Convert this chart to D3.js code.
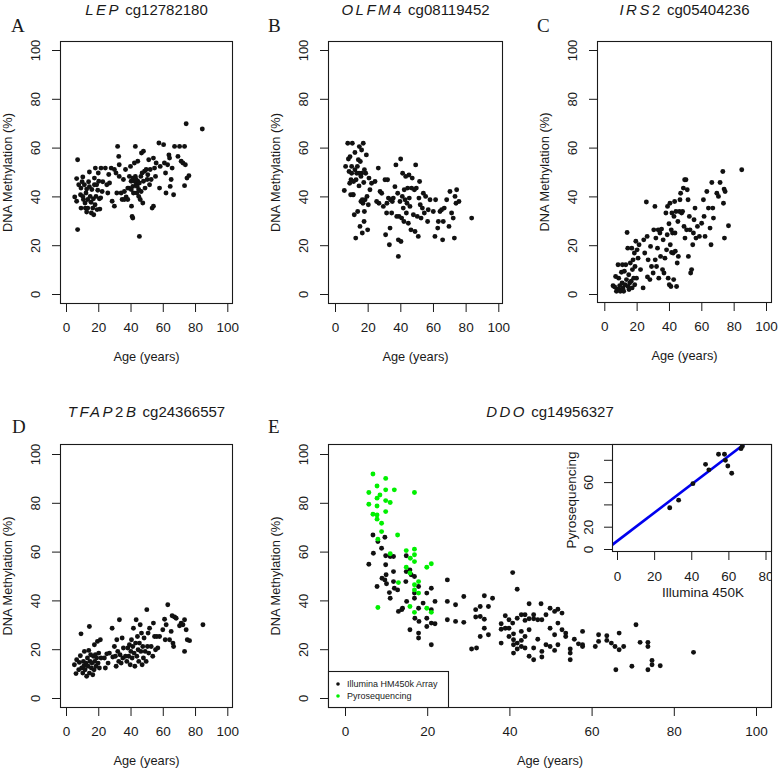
<!DOCTYPE html>
<html><head><meta charset="utf-8">
<script src="https://cdn.jsdelivr.net/npm/d3@7"></script>
<style>body{margin:0;background:#fff} svg{display:block}</style>
</head><body>
<svg id="c" width="778" height="770"></svg>
<script>
// ---------------- DATA ----------------
const tickValues = [0, 20, 40, 60, 80, 100];
const insetTickValues = [0, 20, 40, 60, 80];
const insetYLabelValues = [0, 20, 60];
const panelLetters = ["A", "B", "C", "D", "E"];
const titleGenes = [
  [["LEP", true]],
  [["OLFM", true], ["4", false]],
  [["IRS", true], ["2", false]],
  [["TFAP", true], ["2", false], ["B", true]],
  [["DDO", true]]
];
const titleProbes = ["cg12782180", "cg08119452", "cg05404236", "cg24366557", "cg14956327"];
const yAxisTitle = "DNA Methylation (%)";
const xAxisTitle = "Age (years)";
const legendLabels = ["Illumina HM450k Array", "Pyrosequencing"];
const insetXTitle = "Illumina 450K";
const insetYTitle = "Pyrosequencing";
const fitIntercept = 7.0;
const fitSlope = 1.27;

// [age, methylation %]
const lepPoints = [[7.2,55],[7.2,26.4],[5.4,39.8],[6.6,38],[6.6,47.3],[9.3,43.4],[9.3,35.2],[9,40.7],[10,46],[10.4,48],[11.4,44.8],[10.8,38.7],[12,35.2],[12.8,33.6],[12.4,41.4],[13.5,38.7],[12.8,43],[14,46],[14.5,50],[15,40],[15.5,37.6],[16,42.8],[16.6,35.2],[17.2,32.5],[17.6,44.8],[17.6,47.5],[18.2,51.6],[18.6,40],[19.3,34.6],[19.7,42.5],[20.3,46.2],[20.7,39],[21,34.8],[21.7,51.6],[22.4,42],[22.8,46],[24.4,51.6],[25.3,44.8],[25.9,41.4],[26.5,49],[27,45.5],[28,51.6],[28.6,38],[30,36],[30,51],[31,49.6],[31.5,41.4],[32,60.5],[32.7,56.4],[33,53],[33,48.2],[34.2,41.4],[34.8,38.7],[35.6,46.9],[36.2,42],[36.9,51],[37.3,39.8],[38.3,38.7],[39,43.4],[39.3,48.2],[40,52.3],[40.4,46.2],[40.6,36],[41,31.8],[41.4,31.1],[41.4,44.1],[41.8,41.4],[42.4,53.7],[43,60.5],[43,48.2],[43.5,44.8],[43.9,41.4],[44.5,54.4],[44.5,46.2],[45.1,42.8],[45.5,23.6],[46,38.7],[46.4,48.2],[46.8,57.8],[47.2,49.6],[47.6,37.3],[48,58.5],[48,46.2],[48.7,50.3],[49,43.4],[49.7,51],[50.3,46.9],[50.7,48.9],[51.3,55],[51.8,44.8],[52.2,51],[52.8,46.9],[53.4,35.2],[54.2,36],[54.2,55.7],[54.9,51.6],[55.5,48.2],[55.9,53.7],[57.6,61.9],[58,43.4],[58.4,52.3],[60.5,61.2],[61,53.7],[61.7,49.6],[62,41.4],[63,53],[63.8,57],[64.2,55.7],[64.6,44.1],[65.2,46.9],[65.8,51.6],[66.7,40.7],[67.3,60.5],[69.4,56.4],[70.4,60.5],[71.4,54.4],[72.5,53.7],[73.5,60.5],[73.5,44.4],[74,53],[74.5,69.8],[75,47.5],[76.2,48.5],[84.5,67.6],[7.9,44.8],[10.4,40],[11.8,37.3],[13.5,35.2],[14.5,44],[15.7,33.2],[17,39],[18,36.6],[19,44.8],[20,49.6],[21.5,39.4],[40.4,42.8],[41.4,47.5],[42.4,46.2],[43.5,46.9],[44.1,44.1],[45.1,40],[45.5,45.5],[46.6,42],[38.3,43.4],[36.2,38.7]];

const olfm4Points = [[5.7,42.4],[6.5,52.3],[7.8,61.8],[8.2,55.3],[8.6,50.2],[9.2,56.3],[9.6,40.7],[9.8,46.8],[10.2,49.5],[10.6,61.8],[11,40.7],[11.4,46.1],[11.8,32.5],[12.2,58],[12.2,50.9],[12.7,22.9],[13.3,49.5],[13.7,52.3],[13.9,33.8],[14.3,55],[14.7,44.3],[14.9,60.4],[15.3,27.7],[15.5,54.3],[15.9,37.9],[16.3,59],[16.3,49.5],[16.7,25],[17.1,37.2],[17.3,61.8],[17.6,45.7],[17.8,29.7],[18,33.8],[18.4,38.6],[18.8,49.5],[19.2,57],[19.6,40],[20,26.3],[20.4,36.6],[20.8,47.5],[21.4,42.7],[22.4,45.4],[24.5,46.1],[25.5,37.9],[26.5,51.6],[26.9,37.2],[27.6,42],[28.6,41.3],[29.6,35.9],[30.6,46.8],[31,24.3],[31.6,33.2],[31.8,37.2],[32.2,46.8],[32.7,39.3],[33.3,20.2],[33.7,27],[34,38.6],[34.7,33.2],[35.1,37.9],[35.7,39.3],[36.7,44],[37.3,52.9],[37.8,31.8],[38.4,41.3],[38.8,15.4],[38.8,22.2],[39.2,31.8],[39.8,37.9],[40.2,55.3],[40.4,21.5],[40.8,31.1],[41.2,40],[41.4,49.5],[41.8,35.2],[42.2,29.7],[42.4,42.7],[42.9,38.6],[43.3,48.2],[43.7,33.2],[44.1,37.2],[44.5,43.4],[44.9,29],[45.3,48.8],[45.5,39.3],[45.9,35.9],[46.5,26.3],[46.9,43.4],[47.3,47.5],[48,32.5],[48.6,42.7],[49,25.6],[49.4,52.9],[49.8,43.4],[50.4,31.8],[51,23.6],[51.4,39.3],[51.8,46.1],[52.2,36.6],[52.7,31.1],[53.5,35.2],[54.1,41.3],[54.7,33.2],[55.5,40],[56.7,29.7],[57.1,34.5],[58.2,38.6],[60.2,33.8],[61.2,23.6],[61.6,38.6],[62.9,27],[63.3,29.7],[64.3,33.8],[65.3,34.5],[65.9,22.2],[66.3,29.7],[66.9,35.2],[68.4,38.6],[69.8,27.7],[70.4,42],[71.4,33.2],[72.4,31.1],[73.5,40],[73.1,22.9],[74.1,37.2],[74.5,42.7],[75.9,37.9],[83.7,31.1],[9,45.4],[10.2,52.3],[11.2,40.7],[12.9,46.8],[14.7,49.5],[15.9,48.2],[16.7,38.6],[18,50.9]];

const irs2Points = [[5.4,3.4],[6.4,2.9],[7,7.2],[7.5,1.1],[7.9,2],[8.5,12],[8.9,6.5],[9.1,1.8],[9.5,3.4],[9.9,1.1],[10.6,8.9],[11,4.5],[11.2,12],[11.6,2.5],[12,1.1],[12.4,9.3],[12.8,3.8],[13.3,12],[13.7,5.9],[14.1,25.2],[14.5,18.8],[14.7,3.1],[15.1,7.9],[15.3,1.8],[15.7,4.5],[16.1,12.7],[16.6,5.2],[17,18.8],[17.2,2.5],[17.4,10],[17.8,14],[18.2,6.5],[18.6,16.8],[18.8,3.8],[19,11.3],[19.5,21.6],[19.9,6.5],[20.3,18.1],[20.9,14.7],[21.5,20.2],[22.4,10],[24,2.5],[24.4,22.2],[25,16.8],[26,37.7],[26.5,23.6],[26.7,7],[27.1,14],[28.2,5.9],[28.6,19.5],[29.2,11.3],[30.2,8.6],[30.6,26.3],[31.3,35.9],[31.5,14],[31.9,22.9],[32.3,11.3],[32.9,18.8],[33.3,26.3],[33.7,6.5],[34.4,25],[34.8,15.4],[35.4,26.6],[36,10],[36.4,22.2],[36.9,8.6],[37.5,14.7],[38.1,33.2],[38.5,18.1],[38.9,24.3],[39.1,35.9],[39.5,6.5],[40,28.8],[40.2,3.8],[40.6,37.2],[40.8,20.2],[41.2,3.1],[41.4,26.3],[41.6,17],[41.8,33.2],[42.2,25],[42.6,16.8],[42.9,5.9],[43.1,31.8],[43.5,37.9],[43.7,25],[43.9,17.5],[44.3,33.8],[44.7,3.1],[45.1,12.7],[45.5,29.7],[45.8,15.4],[46.4,33.8],[46.8,38.6],[47.2,41.3],[47.8,33.2],[48.4,33.8],[48.9,43.4],[49.3,27.7],[49.7,46.8],[49.9,22.9],[50.5,46.8],[50.9,26.3],[51.3,42.7],[51.8,38.6],[52,15.4],[52.6,31.8],[53,26.3],[53.4,8.6],[54,10],[54.7,20.2],[55.1,25],[55.5,30.4],[56.1,35.2],[56.7,22.9],[57.6,27.7],[58.8,23.6],[60.2,29],[61.3,38.6],[61.7,31.8],[62.3,23.6],[63.4,42],[64.4,35.2],[65.4,27],[66,20.2],[66.5,45.7],[67.1,35.2],[67.5,31.1],[69.6,41.3],[70.6,40],[71.6,45.7],[73.3,50.2],[73.7,37.2],[74.1,43],[74.3,22.9],[74.7,42],[76.8,28],[85,50.9]];

const tfap2bPoints = [[5.2,13.6],[6.2,10],[6.6,15.7],[7.9,11.6],[8.3,14.6],[8.9,17.3],[9.3,26.3],[9.7,12.3],[10.4,10.2],[10.8,15],[11.2,13.2],[11.4,19.1],[11.8,11.6],[12.4,14.3],[12.8,8.9],[13.3,16.4],[13.7,13],[14.1,19.5],[14.5,29.3],[14.5,10.2],[14.9,15],[15.3,17.7],[15.7,12.3],[16.1,14.3],[16.6,9.5],[17,17.1],[17.4,11.6],[17.6,21.8],[17.8,15],[18.2,17.7],[18.6,13],[19,16.4],[19.5,23.2],[19.9,14.3],[20.3,18.4],[20.7,12.3],[21.3,23.9],[21.7,16.4],[23.8,16.4],[24.4,12.3],[25.3,18.1],[26.1,14.3],[26.9,18.4],[28.6,28.6],[29,16.8],[30,21.1],[30.6,17.1],[31.1,13],[31.5,23.9],[32.1,19.1],[32.7,15],[33.1,32.1],[33.5,17.7],[34.2,14.3],[34.8,24.6],[35.2,16.4],[35.6,20.5],[36.9,17.1],[37.7,15],[38.3,20.5],[38.9,17.1],[39.3,21.8],[39.8,13.6],[40.2,19.1],[40.6,23.9],[41,16.4],[41.4,21.1],[41.8,28.6],[42.2,18.4],[42.7,13],[43.1,22.5],[43.5,32.1],[43.9,17.1],[44.3,25.2],[44.7,19.8],[45.1,15],[45.5,22.5],[46,30],[46.4,19.1],[46.8,26.6],[47.2,13.6],[47.6,21.1],[48,16.4],[48.4,24.6],[49.1,19.1],[49.7,15],[50.1,36.2],[50.5,21.1],[50.9,26.6],[51.3,18.4],[51.8,28.6],[52.8,21.1],[53.8,17.1],[54.2,30.7],[54.9,25.2],[55.5,19.8],[56.3,25.2],[56.9,20.5],[58,25.2],[60,28],[61.1,32.3],[61.5,23.9],[62.1,30],[63.1,38.2],[64.2,23.9],[65.2,27.3],[65.8,33.7],[66.3,22.5],[66.7,21.1],[67.3,33.2],[68.3,32.7],[70.4,29.6],[71.4,30.7],[72.5,30],[73.5,32.1],[73.5,19.1],[74.5,28],[75.2,23.9],[76.6,23.5],[84.9,30]];

const ddoArrayPoints = [[5.8,54.8],[6.8,66.8],[6.9,59.3],[7.8,45.7],[8,64.1],[8.9,61.4],[9,49.1],[9.7,65.9],[9.7,48.4],[9.9,58.3],[9.9,54.6],[10,50.5],[10.1,46.8],[10.8,43.2],[11,40.9],[11,58],[11.8,58],[11.8,51.8],[11.8,47.7],[12,45],[12.8,44.3],[13,35.5],[13.8,36.2],[14,36.8],[14.8,47.7],[14.9,58.3],[14.9,51.8],[15,39.6],[15.8,28],[15.8,52.5],[16.1,50.5],[16.9,49.8],[16.9,43],[16.9,40.9],[17,32.7],[17.9,45.7],[17.9,36.8],[17.9,26.6],[17.9,24.6],[18,31.4],[19,38.9],[19.9,43],[19.9,32.7],[19.9,29.3],[21,45],[21,36.2],[21,30.7],[21,21.8],[21.9,39.6],[21.9,30.4],[24.9,48.4],[24.9,39.6],[24.9,32.1],[26.9,38.2],[26.9,31.4],[28.9,41.6],[28.9,31],[30.8,20.1],[31.8,36.2],[31.8,33.2],[32,20.5],[32.9,37.5],[32.9,33.4],[32.9,25.2],[33.9,41.9],[33.9,32.3],[33.9,28.6],[34.9,37.5],[34.9,25.9],[35.9,40.9],[38,30.4],[38,22.5],[38,28.2],[39,33.7],[39,28.6],[39.9,32.1],[39.9,28.6],[39.9,25.2],[40.8,51.4],[40.8,30.7],[41,26.3],[41,23.9],[41,21.8],[41,18.4],[41.9,44.6],[41.9,32.7],[41.9,22.5],[41.9,20.1],[42.9,34.1],[42.9,27.3],[42.9,23.6],[42.9,21.1],[43.8,34.1],[43.8,31.8],[43.8,25.2],[43.8,20.5],[44.8,38.6],[44.8,32.5],[44.8,28],[44.8,17.1],[45.9,34.1],[45.9,32.5],[45.9,20.5],[45.9,15.7],[46.9,32.1],[46.9,24.1],[47.7,38.6],[47.9,32.1],[47.9,19.1],[47.9,16.8],[48.9,34.1],[48.9,21.8],[49.9,36.8],[49.9,28.6],[49.9,21.1],[51,35.5],[51,25.9],[51,19.5],[51.8,36.4],[51.8,30.7],[51.8,21.8],[52.8,34.8],[52.8,28],[53.7,26.6],[53.7,25.2],[54.8,20.1],[54.8,18.4],[54.8,15.7],[55.8,24.1],[56.8,22.2],[57.8,27.3],[57.8,21.8],[57.8,21.1],[60.9,21.1],[61.7,25.9],[61.7,23.2],[63.7,25.5],[63.7,23.6],[64.8,22.5],[65.7,21.1],[65.9,11.6],[66.7,26.6],[66.7,19.8],[67.8,21.1],[69.8,13],[70.8,30],[71.8,22.8],[73.7,22.8],[73.7,21.1],[73.7,11.6],[74.7,15.4],[74.7,13.6],[76.7,13.2],[84.8,18.7]];

const ddoPyroPoints = [[5.8,84.2],[5.8,79.4],[6.8,91.8],[6.8,75.3],[7.8,86.9],[7.8,81.9],[7.8,78.7],[7.8,75],[7.8,73.3],[8,37.1],[8,65.1],[8.5,83.2],[8.9,71.6],[8.9,68.2],[9.9,90],[9.9,85.3],[9.9,80.9],[9.9,76.4],[11,80.1],[11,59.1],[12,85.3],[12.8,66.8],[13,47.3],[14.9,60.4],[14.9,53.6],[15.8,51.2],[15.8,37.5],[15.9,57.3],[16.9,84.2],[16.9,61],[16.9,58.7],[16.9,55.9],[16.9,46.4],[16.9,44.3],[16.9,35.1],[17.9,47.7],[17.9,43],[19.9,53.6],[19.9,36.8],[21,55],[21,35.1]];

// [Illumina 450K, Pyrosequencing]
const insetPoints = [[28.4,37],[33.2,43.8],[40.9,58.6],[47.7,75.9],[49.5,71],[54.7,85],[57.9,85],[58.4,79.5],[59.7,74.4],[61.8,68],[66.8,90],[67.5,92]];

// ---------------- LAYOUT ----------------
const FONT = "'Liberation Sans', Arial, Helvetica, sans-serif";
const SERIF = "'Liberation Serif', 'Times New Roman', serif";
const INK = "#1a1a1a";
const DOT_R = 2.45;
const layouts = [
  {x0:60,  x1:233, y0:41,  y1:304, xr:[66,227.3],   yr:[294,50],  titleY:15,  letterX:11,  letterY:32},
  {x0:328, x1:503, y0:41,  y1:304, xr:[335,498.3],  yr:[294,50],  titleY:15,  letterX:268, letterY:32},
  {x0:597, x1:772, y0:41,  y1:303, xr:[604.3,766],  yr:[294,50],  titleY:15,  letterX:537, letterY:32},
  {x0:60,  x1:233, y0:444, y1:708, xr:[66,227.3],   yr:[698,454], titleY:417, letterX:12,  letterY:433},
  {x0:328, x1:772, y0:444, y1:708, xr:[345,756],    yr:[698,454], titleY:417, letterX:268, letterY:433}
];
const panelData = [lepPoints, olfm4Points, irs2Points, tfap2bPoints, ddoArrayPoints];

const svg = d3.select("#c");
const defs = svg.append("defs");

function drawPanel(i) {
  const p = layouts[i];
  const x = d3.scaleLinear().domain([0, 100]).range(p.xr);
  const y = d3.scaleLinear().domain([0, 100]).range(p.yr);
  const g = svg.append("g");
  const cid = "clip" + i;
  defs.append("clipPath").attr("id", cid).append("rect")
    .attr("x", p.x0).attr("y", p.y0).attr("width", p.x1 - p.x0).attr("height", p.y1 - p.y0);

  const pts = g.append("g").attr("clip-path", `url(#${cid})`);
  pts.selectAll("circle.blk").data(panelData[i]).join("circle").attr("class", "blk")
    .attr("cx", d => x(d[0])).attr("cy", d => y(d[1])).attr("r", DOT_R).attr("fill", "#111");
  if (i === 4) {
    pts.selectAll("circle.grn").data(ddoPyroPoints).join("circle").attr("class", "grn")
      .attr("cx", d => x(d[0])).attr("cy", d => y(d[1])).attr("r", DOT_R).attr("fill", "#00f000");
  }

  // x axis
  const xa = g.append("g").attr("transform", `translate(0,${p.y1})`)
    .call(d3.axisBottom(x).tickValues(tickValues).tickSize(8).tickPadding(10.5));
  xa.select(".domain").remove();
  xa.selectAll("line").attr("stroke", INK);
  xa.selectAll("text").attr("font-family", FONT).attr("font-size", 13.5).attr("fill", INK);

  // y axis
  const ya = g.append("g").attr("transform", `translate(${p.x0},0)`)
    .call(d3.axisLeft(y).tickValues(tickValues).tickSize(8));
  ya.select(".domain").remove();
  ya.selectAll("line").attr("stroke", INK);
  ya.selectAll("text").attr("x", null).attr("dy", null)
    .attr("transform", "translate(-20,0) rotate(-90)").attr("text-anchor", "middle")
    .attr("font-family", FONT).attr("font-size", 13).attr("fill", INK);

  // box
  g.append("rect").attr("x", p.x0 + 0.5).attr("y", p.y0 + 0.5)
    .attr("width", p.x1 - p.x0 - 1).attr("height", p.y1 - p.y0 - 1)
    .attr("fill", "none").attr("stroke", INK).attr("stroke-width", 1.1);

  // axis titles
  g.append("text").attr("x", (p.x0 + p.x1) / 2).attr("y", p.y1 + 57)
    .attr("text-anchor", "middle").attr("font-family", FONT).attr("font-size", 12.8).attr("fill", INK)
    .text(xAxisTitle);
  g.append("text").attr("transform", `translate(${p.x0 - 48},${(p.y0 + p.y1) / 2}) rotate(-90)`)
    .attr("text-anchor", "middle").attr("font-family", FONT).attr("font-size", 12.8).attr("fill", INK)
    .text(yAxisTitle);

  // title
  const t = g.append("text").attr("x", (p.x0 + p.x1) / 2).attr("y", p.titleY)
    .attr("text-anchor", "middle").attr("font-family", FONT).attr("font-size", 15).attr("fill", INK);
  titleGenes[i].forEach(([s, it]) => {
    t.append("tspan").attr("font-style", it ? "italic" : "normal").attr("letter-spacing", 2.5).text(s);
  });
  t.append("tspan").text(" " + titleProbes[i]);

  // panel letter
  g.append("text").attr("x", p.letterX).attr("y", p.letterY)
    .attr("font-family", SERIF).attr("font-size", 19).attr("fill", INK).text(panelLetters[i]);
  return {x, y, g};
}

for (let i = 0; i < 5; i++) drawPanel(i);

// ---------------- Legend (panel E) ----------------
const lg = svg.append("g");
lg.append("rect").attr("x", 328.5).attr("y", 671.5).attr("width", 120).attr("height", 36)
  .attr("fill", "#fff").attr("stroke", INK).attr("stroke-width", 1.1);
const legendColors = ["#111", "#00f000"];
legendLabels.forEach((lab, k) => {
  const yy = 684 + k * 12;
  lg.append("circle").attr("cx", 338).attr("cy", yy).attr("r", 1.8).attr("fill", legendColors[k]);
  lg.append("text").attr("x", 347).attr("y", yy + 3.2).attr("font-family", FONT).attr("font-size", 9)
    .attr("fill", INK).text(lab);
});

// ---------------- Inset (panel E) ----------------
const ib = {x0:612, x1:772, y0:444, y1:552};
const ix = d3.scaleLinear().domain([0, 80]).range([617, 765.5]);
const iy = d3.scaleLinear().domain([0, 80]).range([549, 459.8]);
const ig = svg.append("g");
defs.append("clipPath").attr("id", "clipInset").append("rect")
  .attr("x", ib.x0).attr("y", ib.y0).attr("width", ib.x1 - ib.x0).attr("height", ib.y1 - ib.y0);
defs.append("clipPath").attr("id", "clipFig").append("rect")
  .attr("x", 0).attr("y", 0).attr("width", 772).attr("height", 770);
ig.append("rect").attr("x", ib.x0).attr("y", ib.y0).attr("width", ib.x1 - ib.x0).attr("height", ib.y1 - ib.y0)
  .attr("fill", "#fff");
const ic = ig.append("g").attr("clip-path", "url(#clipInset)");
ic.append("line").attr("x1", ix(-10)).attr("y1", iy(fitIntercept + fitSlope * -10))
  .attr("x2", ix(90)).attr("y2", iy(fitIntercept + fitSlope * 90))
  .attr("stroke", "#0000ee").attr("stroke-width", 2.6);
ic.selectAll("circle").data(insetPoints).join("circle")
  .attr("cx", d => ix(d[0])).attr("cy", d => iy(d[1])).attr("r", DOT_R).attr("fill", "#111");

const ixa = ig.append("g").attr("transform", `translate(0,${ib.y1})`).attr("clip-path", "url(#clipFig)")
  .call(d3.axisBottom(ix).tickValues(insetTickValues).tickSize(8).tickPadding(11));
ixa.select(".domain").remove();
ixa.selectAll("line").attr("stroke", INK);
ixa.selectAll("text").attr("font-family", FONT).attr("font-size", 13.5).attr("fill", INK);

const iya = ig.append("g").attr("transform", `translate(${ib.x0},0)`)
  .call(d3.axisLeft(iy).tickValues(insetTickValues).tickSize(8)
    .tickFormat(v => insetYLabelValues.includes(v) ? String(v) : ""));
iya.select(".domain").remove();
iya.selectAll("line").attr("stroke", INK);
iya.selectAll("text").attr("x", null).attr("dy", null)
  .attr("transform", "translate(-19,0) rotate(-90)").attr("text-anchor", "middle")
  .attr("font-family", FONT).attr("font-size", 13.5).attr("fill", INK);

ig.append("rect").attr("x", ib.x0 + 0.5).attr("y", ib.y0 + 0.5)
  .attr("width", ib.x1 - ib.x0 - 1).attr("height", ib.y1 - ib.y0 - 1)
  .attr("fill", "none").attr("stroke", INK).attr("stroke-width", 1.1);
ig.append("text").attr("x", 703).attr("y", 597).attr("text-anchor", "middle")
  .attr("font-family", FONT).attr("font-size", 13.5).attr("fill", INK).text(insetXTitle);
ig.append("text").attr("transform", "translate(576,500) rotate(-90)").attr("text-anchor", "middle")
  .attr("font-family", FONT).attr("font-size", 13.5).attr("fill", INK).text(insetYTitle);
</script>
</body></html>
